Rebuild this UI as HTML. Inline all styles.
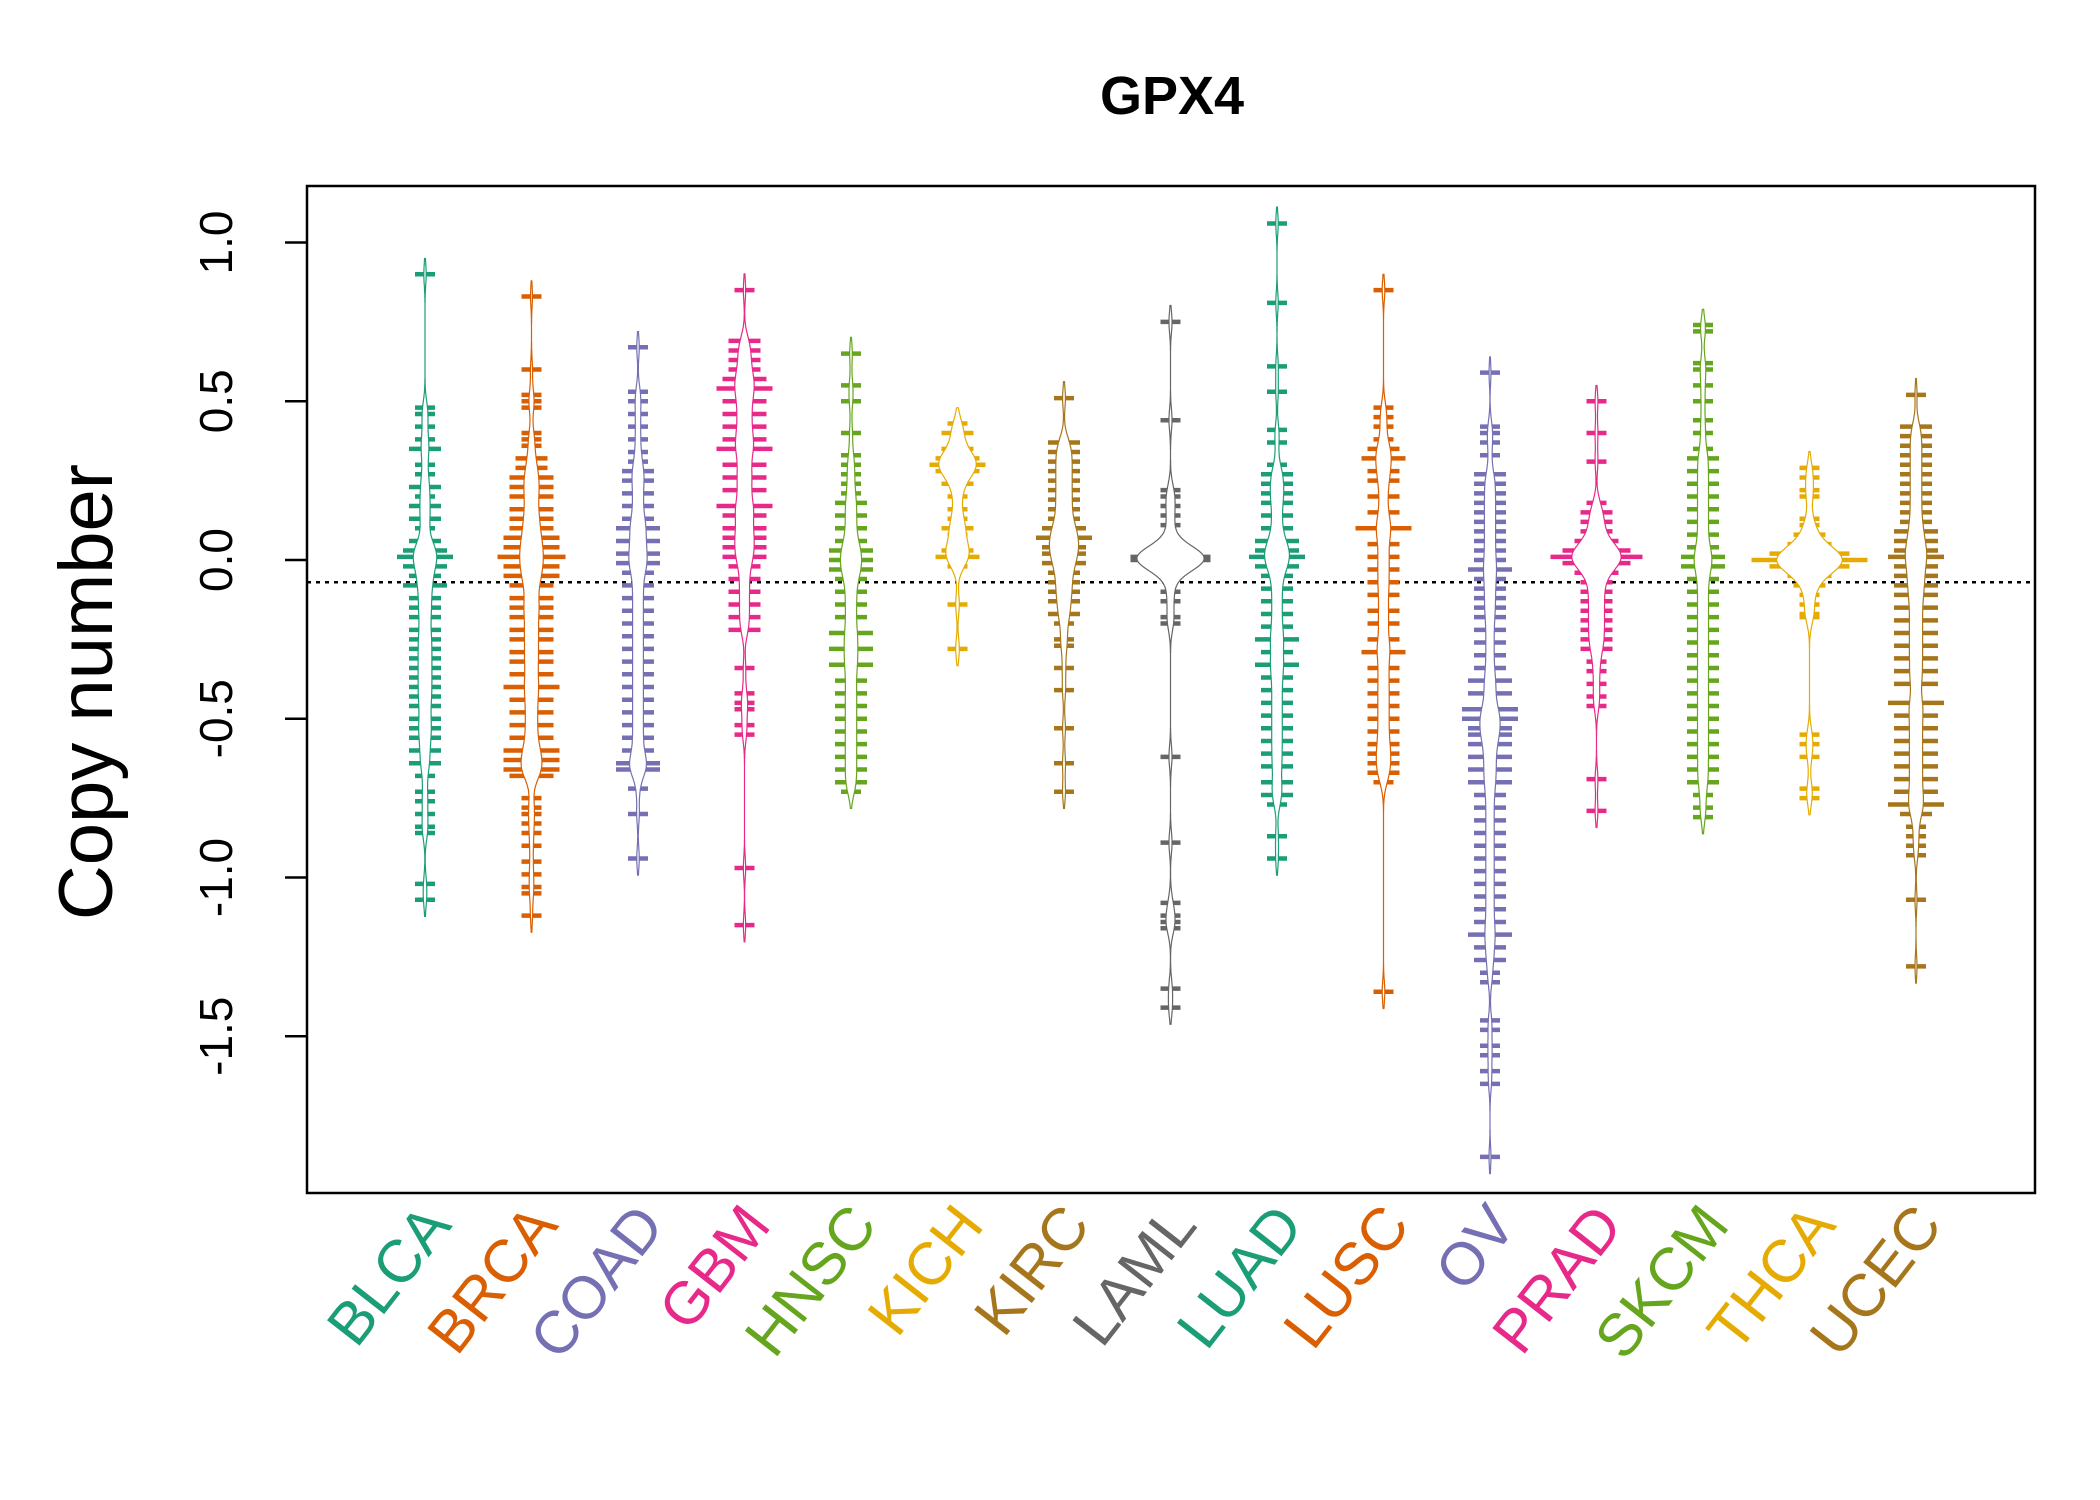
<!DOCTYPE html>
<html><head><meta charset="utf-8"><style>
html,body{margin:0;padding:0;background:#fff;}
svg{display:block;font-family:"Liberation Sans",sans-serif;}
</style></head><body>
<svg id="chart" width="2100" height="1500" viewBox="0 0 2100 1500">
<text x="1172" y="114" text-anchor="middle" font-size="54" font-weight="bold">GPX4</text>
<g id="plot"></g>
<rect x="307" y="186" width="1728" height="1007" fill="none" stroke="#000" stroke-width="2.5"/>
<g id="yaxis"></g>
<g id="xaxis"></g>
<text transform="translate(112,692) rotate(-90)" text-anchor="middle" font-size="76">Copy number</text>
</svg>
<script>
const categories=["BLCA","BRCA","COAD","GBM","HNSC","KICH","KIRC","LAML","LUAD","LUSC","OV","PRAD","SKCM","THCA","UCEC"];
const colors=["#1B9E77","#D95F02","#7570B3","#E7298A","#66A61E","#E6AB02","#A6761D","#666666","#1B9E77","#D95F02","#7570B3","#E7298A","#66A61E","#E6AB02","#A6761D"];
const yTicks=[1.0,0.5,0.0,-0.5,-1.0,-1.5];
const yTickLabels=["1.0","0.5","0.0","-0.5","-1.0","-1.5"];
const refLine=-0.07;
const BLCA=[[0.9,1],[0.48,1],[0.46,1],[0.42,1],[0.38,1],[0.35,2],[0.3,1],[0.27,1],[0.23,2],[0.2,1],[0.17,2],[0.13,2],[0.1,1],[0.06,2],[0.03,3],[0.01,4],[-0.02,3],[-0.05,2],[-0.08,3],[-0.12,2],[-0.15,2],[-0.18,2],[-0.22,2],[-0.25,2],[-0.28,2],[-0.31,2],[-0.34,2],[-0.37,2],[-0.4,2],[-0.43,2],[-0.46,2],[-0.5,2],[-0.53,2],[-0.56,2],[-0.6,2],[-0.64,2],[-0.68,1],[-0.73,1],[-0.76,1],[-0.8,1],[-0.84,1],[-0.86,1],[-1.02,1],[-1.07,1]];
const BRCA=[[0.83,1],[0.6,1],[0.52,1],[0.5,1],[0.48,1],[0.4,1],[0.38,1],[0.36,1],[0.32,2],[0.29,2],[0.26,3],[0.23,3],[0.2,3],[0.16,3],[0.13,3],[0.1,3],[0.07,4],[0.04,4],[0.01,5],[-0.02,4],[-0.05,4],[-0.08,3],[-0.12,3],[-0.15,3],[-0.18,3],[-0.22,3],[-0.25,3],[-0.29,3],[-0.32,3],[-0.36,3],[-0.4,4],[-0.44,3],[-0.48,3],[-0.52,3],[-0.56,3],[-0.6,4],[-0.63,4],[-0.66,4],[-0.68,3],[-0.75,1],[-0.78,1],[-0.8,1],[-0.83,1],[-0.86,1],[-0.9,1],[-0.95,1],[-0.99,1],[-1.03,1],[-1.05,1],[-1.12,1]];
const COAD=[[0.67,1],[0.53,1],[0.5,1],[0.46,1],[0.42,1],[0.38,1],[0.34,1],[0.31,1],[0.28,2],[0.25,2],[0.21,2],[0.17,2],[0.13,2],[0.1,3],[0.06,3],[0.02,3],[-0.01,3],[-0.04,2],[-0.08,2],[-0.12,2],[-0.16,2],[-0.2,2],[-0.24,2],[-0.28,2],[-0.32,2],[-0.36,2],[-0.4,2],[-0.44,2],[-0.48,2],[-0.52,2],[-0.56,2],[-0.6,2],[-0.64,3],[-0.66,3],[-0.72,1],[-0.8,1],[-0.94,1]];
const GBM=[[0.85,1],[0.69,2],[0.66,2],[0.63,2],[0.6,2],[0.57,3],[0.54,4],[0.5,3],[0.46,3],[0.42,3],[0.38,3],[0.35,4],[0.3,3],[0.26,3],[0.22,3],[0.17,4],[0.14,3],[0.1,3],[0.07,3],[0.04,3],[0.01,3],[-0.02,2],[-0.06,2],[-0.1,2],[-0.14,2],[-0.18,2],[-0.22,2],[-0.34,1],[-0.42,1],[-0.45,1],[-0.47,1],[-0.52,1],[-0.55,1],[-0.97,1],[-1.15,1]];
const HNSC=[[0.65,1],[0.55,1],[0.5,1],[0.4,1],[0.33,1],[0.3,1],[0.27,1],[0.24,1],[0.21,1],[0.18,2],[0.14,2],[0.1,2],[0.06,2],[0.03,3],[0,3],[-0.03,3],[-0.06,2],[-0.1,2],[-0.14,2],[-0.18,2],[-0.23,3],[-0.28,3],[-0.33,3],[-0.38,2],[-0.42,2],[-0.46,2],[-0.5,2],[-0.54,2],[-0.58,2],[-0.62,2],[-0.66,2],[-0.7,2],[-0.73,1]];
const KICH=[[0.43,1],[0.4,2],[0.35,2],[0.32,3],[0.3,4],[0.28,3],[0.24,2],[0.2,1],[0.16,1],[0.13,1],[0.1,2],[0.08,1],[0.05,1],[0.03,2],[0.01,3],[-0.02,1],[-0.14,1],[-0.28,1]];
const KIRC=[[0.51,1],[0.37,2],[0.34,2],[0.31,2],[0.28,2],[0.25,2],[0.22,2],[0.19,2],[0.16,2],[0.13,2],[0.1,3],[0.07,4],[0.04,3],[0.02,3],[-0.01,3],[-0.04,2],[-0.07,2],[-0.1,2],[-0.13,2],[-0.17,2],[-0.2,1],[-0.25,1],[-0.27,1],[-0.34,1],[-0.41,1],[-0.53,1],[-0.64,1],[-0.73,1]];
const LAML=[[0.75,1],[0.44,1],[0.22,1],[0.2,1],[0.17,1],[0.14,1],[0.11,1],[0.07,1],[0.04,2],[0.02,4],[0.01,6],[0,6],[-0.01,4],[-0.03,2],[-0.06,1],[-0.1,1],[-0.13,1],[-0.18,1],[-0.2,1],[-0.62,1],[-0.89,1],[-1.08,1],[-1.12,1],[-1.14,1],[-1.16,1],[-1.35,1],[-1.41,1]];
const LUAD=[[1.06,1],[0.81,1],[0.61,1],[0.53,1],[0.41,1],[0.37,1],[0.3,1],[0.27,2],[0.24,2],[0.21,2],[0.18,2],[0.14,2],[0.1,2],[0.06,3],[0.03,3],[0.01,4],[-0.02,3],[-0.05,2],[-0.09,2],[-0.13,2],[-0.17,2],[-0.21,2],[-0.25,3],[-0.29,2],[-0.33,3],[-0.37,2],[-0.41,2],[-0.45,2],[-0.49,2],[-0.53,2],[-0.57,2],[-0.61,2],[-0.65,2],[-0.7,2],[-0.74,2],[-0.77,1],[-0.87,1],[-0.94,1]];
const LUSC=[[0.85,1],[0.48,1],[0.45,1],[0.42,1],[0.38,1],[0.35,2],[0.32,3],[0.28,2],[0.25,2],[0.2,2],[0.15,2],[0.1,4],[0.05,2],[0.01,2],[-0.03,2],[-0.07,2],[-0.11,2],[-0.16,2],[-0.2,2],[-0.25,2],[-0.29,3],[-0.34,2],[-0.38,2],[-0.42,2],[-0.46,2],[-0.5,2],[-0.54,2],[-0.58,2],[-0.61,2],[-0.64,2],[-0.67,2],[-0.7,1],[-1.36,1]];
const OV=[[0.59,1],[0.42,1],[0.4,1],[0.37,1],[0.33,1],[0.27,2],[0.24,2],[0.21,2],[0.18,2],[0.15,2],[0.12,2],[0.09,2],[0.06,2],[0.03,2],[0,2],[-0.03,3],[-0.06,2],[-0.09,2],[-0.12,2],[-0.15,2],[-0.18,2],[-0.22,2],[-0.26,2],[-0.3,2],[-0.34,2],[-0.38,3],[-0.42,3],[-0.47,4],[-0.5,4],[-0.53,3],[-0.55,3],[-0.58,3],[-0.62,3],[-0.66,3],[-0.7,3],[-0.74,2],[-0.78,2],[-0.82,2],[-0.86,2],[-0.9,2],[-0.94,2],[-0.98,2],[-1.02,2],[-1.06,2],[-1.1,2],[-1.14,2],[-1.18,3],[-1.22,2],[-1.26,2],[-1.3,1],[-1.33,1],[-1.45,1],[-1.48,1],[-1.53,1],[-1.56,1],[-1.61,1],[-1.65,1],[-1.88,1]];
const PRAD=[[0.5,1],[0.4,1],[0.31,1],[0.18,1],[0.15,2],[0.12,2],[0.09,2],[0.06,3],[0.03,5],[0.01,7],[-0.01,5],[-0.04,3],[-0.07,2],[-0.1,2],[-0.13,2],[-0.16,2],[-0.19,2],[-0.22,2],[-0.25,2],[-0.28,2],[-0.32,1],[-0.35,1],[-0.39,1],[-0.43,1],[-0.46,1],[-0.69,1],[-0.79,1]];
const SKCM=[[0.74,1],[0.72,1],[0.62,1],[0.6,1],[0.55,1],[0.5,1],[0.44,1],[0.4,1],[0.35,1],[0.32,2],[0.28,2],[0.24,2],[0.2,2],[0.16,2],[0.12,2],[0.08,2],[0.04,2],[0.01,3],[-0.02,3],[-0.06,2],[-0.1,2],[-0.14,2],[-0.18,2],[-0.22,2],[-0.26,2],[-0.3,2],[-0.34,2],[-0.38,2],[-0.42,2],[-0.46,2],[-0.5,2],[-0.54,2],[-0.58,2],[-0.62,2],[-0.66,2],[-0.7,2],[-0.74,1],[-0.78,1],[-0.81,1]];
const THCA=[[0.29,1],[0.26,1],[0.22,1],[0.2,1],[0.13,1],[0.11,1],[0.08,2],[0.05,3],[0.02,6],[0.0,9],[-0.02,6],[-0.05,3],[-0.08,2],[-0.11,1],[-0.14,1],[-0.17,1],[-0.18,1],[-0.55,1],[-0.58,1],[-0.62,1],[-0.72,1],[-0.75,1]];
const UCEC=[[0.52,1],[0.42,2],[0.39,2],[0.36,2],[0.33,2],[0.3,2],[0.27,2],[0.24,2],[0.21,2],[0.18,2],[0.15,2],[0.12,2],[0.09,3],[0.06,3],[0.03,3],[0.01,4],[-0.02,3],[-0.05,3],[-0.08,3],[-0.11,3],[-0.15,3],[-0.19,3],[-0.23,3],[-0.27,3],[-0.31,3],[-0.35,3],[-0.39,3],[-0.45,4],[-0.49,3],[-0.53,3],[-0.57,3],[-0.61,3],[-0.65,3],[-0.69,3],[-0.73,3],[-0.77,4],[-0.8,2],[-0.84,1],[-0.87,1],[-0.9,1],[-0.93,1],[-1.07,1],[-1.28,1]];
const seriesData=[BLCA,BRCA,COAD,GBM,HNSC,KICH,KIRC,LAML,LUAD,LUSC,OV,PRAD,SKCM,THCA,UCEC];

const NS="http://www.w3.org/2000/svg";
const PL=307,PR=2035,PT=186,PB=1193;
function yScale(v){return 560-317.5*v;}
function xScale(i){return 425+106.5*i;}
function mk(tag,attrs,parent){const e=document.createElementNS(NS,tag);for(const k in attrs)e.setAttribute(k,attrs[k]);parent.appendChild(e);return e;}
const plot=document.getElementById('plot');
const yaxis=document.getElementById('yaxis');
const xaxis=document.getElementById('xaxis');

const rl=mk('line',{x1:PL,x2:PR,y1:yScale(refLine),y2:yScale(refLine),stroke:'#000','stroke-width':2.5,'stroke-dasharray':'4 5'},plot);



const bw=0.035,K=0.9;
seriesData.forEach((d,i)=>{
  const cx=xScale(i),col=colors[i];
  const g=mk('g',{},plot);
  
  
  let N=0,mn=Infinity,mx=-Infinity;
  d.forEach(([v,c])=>{N+=c;mn=Math.min(mn,v);mx=Math.max(mx,v);});
  const left=[],right=[];
  for(let y=mn-1.5*bw;y<=mx+1.5*bw;y+=0.004){
    let s=0;d.forEach(([v,c])=>{const z=(y-v)/bw;s+=c*Math.exp(-z*z/2);});
    const dens=s/(bw*2.5066)/Math.sqrt(N);
    const w=Math.min(K*dens,60);
    left.push([cx-w,yScale(y)]);right.push([cx+w,yScale(y)]);
  }
  const pts=left.concat(right.reverse()).map(p=>p[0].toFixed(1)+','+p[1].toFixed(1)).join(' ');
  d.forEach(([v,c])=>{
    const half=10+6*(c-1);
    const ln=mk('line',{x1:cx-half,x2:cx+half,y1:yScale(v),y2:yScale(v),stroke:col,'stroke-width':4.5},g);
    
    
  });
  const poly=mk('polygon',{points:pts,fill:'#fff',stroke:col,'stroke-width':1.2},g);
  
  
  const t=mk('text',{transform:`translate(${cx+28},1226) rotate(-52)`,'text-anchor':'end','font-size':60,fill:col},xaxis);
  t.textContent=categories[i];
  
  
});

yTicks.forEach((v,i)=>{
  const y=yScale(v);
  const tk=mk('line',{x1:PL-22,x2:PL,y1:y,y2:y,stroke:'#000','stroke-width':2.5},yaxis);
  
  
  const t=mk('text',{transform:`translate(232,${y}) rotate(-90)`,'text-anchor':'middle','font-size':46},yaxis);
  t.textContent=yTickLabels[i];
  
  
});
</script>
</body></html>
